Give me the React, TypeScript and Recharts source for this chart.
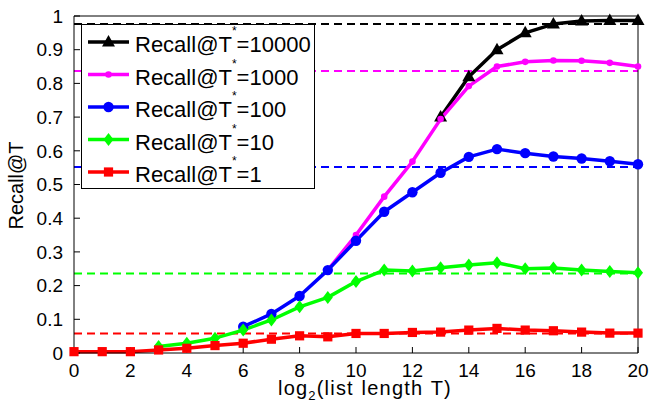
import { ComposedChart, Line, XAxis, YAxis, ReferenceLine, Legend, Label } from 'recharts';

// log2 of the list length T
const LOG_T = [0, 1, 2, 3, 4, 5, 6, 7, 8, 9, 10, 11, 12, 13, 14, 15, 16, 17, 18, 19, 20];
const X_TICKS = [0, 2, 4, 6, 8, 10, 12, 14, 16, 18, 20];
const Y_TICKS = [0, 0.1, 0.2, 0.3, 0.4, 0.5, 0.6, 0.7, 0.8, 0.9, 1];

// each curve only starts once T reaches ~T*
const R10000 = [null, null, null, null, null, null, null, null, null, null, null, null, null, 0.7, 0.82, 0.9, 0.95, 0.976, 0.985, 0.987, 0.987];
const R1000 = [null, null, null, null, null, null, null, null, null, 0.246, 0.35, 0.464, 0.568, 0.694, 0.792, 0.85, 0.864, 0.868, 0.867, 0.861, 0.85];
const R100 = [null, null, null, null, null, null, 0.078, 0.116, 0.169, 0.246, 0.333, 0.419, 0.477, 0.535, 0.582, 0.605, 0.593, 0.583, 0.577, 0.569, 0.56];
const R10 = [null, null, null, 0.019, 0.029, 0.044, 0.068, 0.098, 0.137, 0.165, 0.212, 0.246, 0.243, 0.253, 0.261, 0.268, 0.25, 0.252, 0.246, 0.242, 0.238];
const R1 = [0.004, 0.004, 0.004, 0.009, 0.014, 0.022, 0.029, 0.041, 0.051, 0.048, 0.058, 0.058, 0.061, 0.062, 0.068, 0.073, 0.068, 0.066, 0.062, 0.059, 0.059];

// dashed horizontal levels, same order as the series
const LEVELS = [0.976, 0.837, 0.552, 0.236, 0.058];
const T_STAR = ['10000', '1000', '100', '10', '1'];

type Shape = 'triangle' | 'dot' | 'circle' | 'diamond' | 'square';

const SERIES: { key: string; color: string; shape: Shape; values: (number | null)[] }[] = [
  { key: 'r10000', color: '#000000', shape: 'triangle', values: R10000 },
  { key: 'r1000', color: '#ff00ff', shape: 'dot', values: R1000 },
  { key: 'r100', color: '#0000ff', shape: 'circle', values: R100 },
  { key: 'r10', color: '#00ff00', shape: 'diamond', values: R10 },
  { key: 'r1', color: '#ff0000', shape: 'square', values: R1 },
];

const data = LOG_T.map((x, i) => {
  const row: Record<string, number | null> = { x };
  SERIES.forEach((s) => (row[s.key] = s.values[i]));
  return row;
});

function Marker({ shape, cx, cy, color }: { shape: Shape; cx: number; cy: number; color: string }) {
  switch (shape) {
    case 'triangle':
      return <polygon points={`${cx},${cy - 7} ${cx - 6.5},${cy + 4.5} ${cx + 6.5},${cy + 4.5}`} fill={color} />;
    case 'dot':
      return <circle cx={cx} cy={cy} r={3.3} fill={color} />;
    case 'circle':
      return <circle cx={cx} cy={cy} r={5.2} fill={color} />;
    case 'diamond':
      return <polygon points={`${cx},${cy - 6.5} ${cx + 5},${cy} ${cx},${cy + 6.5} ${cx - 5},${cy}`} fill={color} />;
    default:
      return <rect x={cx - 4.6} y={cy - 4.6} width={9.2} height={9.2} fill={color} />;
  }
}

function LegendBox() {
  return (
    <svg width={234} height={165} style={{ display: 'block' }}>
      <rect x={0.5} y={0.5} width={233} height={164} fill="#fff" stroke="#000" strokeWidth={1} />
      {SERIES.map((s, i) => {
        const y = 18 + i * 32.5;
        return (
          <g key={s.key}>
            <line x1={7} x2={48} y1={y} y2={y} stroke={s.color} strokeWidth={3.5} />
            <Marker shape={s.shape} cx={27.5} cy={y} color={s.color} />
            <text x={54} y={y + 10} fontSize={22} fill="#000">
              Recall@T
              <tspan fontSize={12} dy={-17}>*</tspan>
              <tspan dy={17}>={T_STAR[i]}</tspan>
            </text>
          </g>
        );
      })}
    </svg>
  );
}

const tickStyle = { fill: '#000', fontSize: 19 };

export default function App() {
  return (
    <div style={{ position: 'absolute', left: 0, top: 0, fontFamily: '"Liberation Sans", Arial, sans-serif', background: '#fff' }}>
      <ComposedChart width={649} height={408} data={data} margin={{ top: 15, right: 10, left: 0, bottom: 0 }}>
        <XAxis
          xAxisId="bottom"
          dataKey="x"
          type="number"
          domain={[0, 20]}
          ticks={X_TICKS}
          height={55}
          stroke="#000"
          tick={tickStyle}
          tickSize={-6}
          tickMargin={17}
        >
          <Label
            content={(p: any) => {
              const vb = p.viewBox;
              return (
                <text
                  x={vb.x + vb.width / 2 + 9}
                  y={vb.y + 41.5}
                  textAnchor="middle"
                  fontSize={20}
                  fill="#000"
                  style={{ letterSpacing: 1.2, wordSpacing: 1 }}
                >
                  log<tspan fontSize={13} dy={5}>2</tspan>
                  <tspan dy={-5}>(list length T)</tspan>
                </text>
              );
            }}
          />
        </XAxis>
        <XAxis xAxisId="top" orientation="top" type="number" domain={[0, 20]} ticks={X_TICKS} height={1} stroke="#000" tick={false} tickSize={-6} />
        <YAxis
          yAxisId="left"
          type="number"
          domain={[0, 1]}
          ticks={Y_TICKS}
          width={74}
          stroke="#000"
          tick={tickStyle}
          tickSize={-6}
          tickMargin={17}
        >
          <Label
            content={(p: any) => {
              const vb = p.viewBox;
              const cy = vb.y + vb.height / 2 + 1;
              return (
                <text transform={`translate(${vb.x + 23},${cy}) rotate(-90)`} textAnchor="middle" fontSize={20} fill="#000">
                  Recall@T
                </text>
              );
            }}
          />
        </YAxis>
        <YAxis yAxisId="right" orientation="right" type="number" domain={[0, 1]} ticks={Y_TICKS} width={1} stroke="#000" tick={false} tickSize={-6} />
        {SERIES.map((s, i) => (
          <ReferenceLine
            key={'lvl' + s.key}
            xAxisId="bottom"
            yAxisId="left"
            y={LEVELS[i]}
            stroke={s.color}
            strokeWidth={2}
            strokeDasharray="8 5"
          />
        ))}
        {SERIES.map((s) => (
          <Line
            key={s.key}
            xAxisId="bottom"
            yAxisId="left"
            dataKey={s.key}
            stroke={s.color}
            strokeWidth={3.5}
            strokeLinejoin="round"
            isAnimationActive={false}
            activeDot={false}
            dot={(p: any) =>
              p.payload[s.key] == null || p.cy == null ? (
                <g key={p.index} />
              ) : (
                <Marker key={p.index} shape={s.shape} cx={p.cx} cy={p.cy} color={s.color} />
              )
            }
          />
        ))}
        <Legend
          layout="vertical"
          align="center"
          verticalAlign="middle"
          wrapperStyle={{ left: 81, top: 24, width: 234, height: 165 }}
          content={() => <LegendBox />}
        />
      </ComposedChart>
    </div>
  );
}
